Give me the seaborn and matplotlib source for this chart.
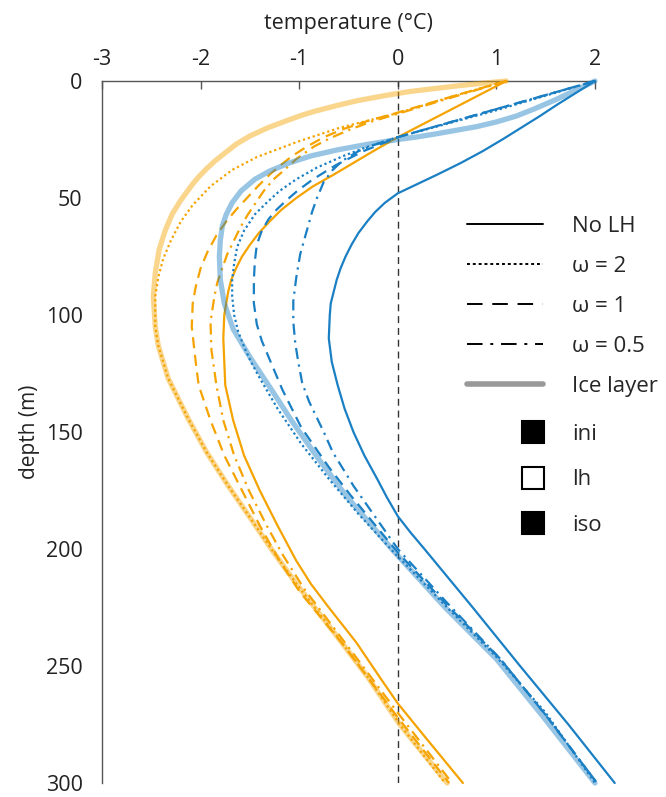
import numpy as np
import seaborn as sns
import matplotlib.pyplot as plt
from matplotlib.lines import Line2D

# ---- data (depth in m, temperature in degC) ----
blue_solid_d = [0, 5, 10, 15, 20, 25, 30, 35, 40, 44, 48, 52, 56, 60, 65, 70, 75, 80, 85, 90, 95, 100, 110,
                120, 130, 140, 150, 160, 170, 178, 186, 193, 200, 225, 250, 275, 300]
blue_solid_t = [2.0, 1.81, 1.62, 1.44, 1.25, 1.06, 0.86, 0.64, 0.40, 0.20, 0.0, -0.13, -0.23, -0.31, -0.40,
                -0.47, -0.53, -0.58, -0.62, -0.65, -0.68, -0.69, -0.70, -0.67, -0.61, -0.54, -0.45, -0.34,
                -0.21, -0.11, 0.0, 0.13, 0.27, 0.76, 1.24, 1.73, 2.2]

blue_dotted_d = [0, 12.5, 24, 28, 32, 37, 42, 47, 52, 57, 64, 71, 78, 85, 92, 100, 107, 113.5, 120, 127,
                 140, 155, 170, 185, 201, 225, 247, 270, 300]
blue_dotted_t = [2.0, 1.0, 0.0, -0.30, -0.55, -0.82, -1.03, -1.20, -1.33, -1.45, -1.56, -1.63, -1.66, -1.68,
                 -1.68, -1.66, -1.62, -1.56, -1.49, -1.40, -1.22, -0.98, -0.70, -0.40, -0.05, 0.5, 1.02,
                 1.5, 2.0]

blue_dashed_d = [0, 12, 24, 30, 36, 42, 47, 51, 55, 59, 64, 70, 77, 85, 95, 104, 111, 118, 125, 132, 148,
                 165, 177, 201, 224, 247, 271, 300]
blue_dashed_t = [2.0, 1.0, 0.0, -0.35, -0.63, -0.86, -1.02, -1.13, -1.23, -1.31, -1.38, -1.43, -1.45, -1.46,
                 -1.46, -1.43, -1.38, -1.31, -1.24, -1.17, -0.98, -0.70, -0.48, -0.01, 0.5, 1.04, 1.5, 2.02]

blue_dashdot_d = [0, 12, 24, 27, 30, 34, 38, 43, 50, 56, 62, 68, 74, 84, 94, 103, 112, 120, 129, 137, 144,
                  151, 158.6, 173, 188, 200, 223, 247, 272, 300]
blue_dashdot_t = [2.0, 1.0, 0.0, -0.22, -0.40, -0.56, -0.66, -0.75, -0.82, -0.87, -0.91, -0.95, -0.99, -1.03,
                  -1.06, -1.06, -1.04, -1.01, -0.97, -0.90, -0.82, -0.74, -0.66, -0.45, -0.2, 0.0, 0.5, 1.04,
                  1.52, 2.02]

blue_ice_d = [0, 4, 8, 12, 15, 17.5, 19.5, 21, 22.5, 24, 25, 27, 29.5, 32, 35, 38.5, 42, 47, 52, 57, 62, 68,
              75, 85, 95, 106, 118, 132, 145, 160, 177, 201, 225, 247, 272, 300]
blue_ice_t = [2.0, 1.8, 1.6, 1.38, 1.2, 1.0, 0.8, 0.6, 0.4, 0.18, 0.0, -0.30, -0.62, -0.88, -1.10, -1.30,
              -1.45, -1.59, -1.68, -1.74, -1.78, -1.80, -1.81, -1.80, -1.76, -1.67, -1.50, -1.28, -1.08,
              -0.83, -0.53, -0.04, 0.48, 1.0, 1.48, 2.0]

orange_solid_d = [0, 12, 24, 30, 35, 40, 45, 50, 55, 60, 65, 70, 75, 80, 85, 90, 100, 110, 120, 130, 145,
                  160, 175, 190, 205, 215, 225, 240, 255, 266, 280, 300]
orange_solid_t = [1.1, 0.55, 0.0, -0.25, -0.45, -0.65, -0.86, -1.03, -1.18, -1.30, -1.41, -1.50, -1.58,
                  -1.64, -1.69, -1.72, -1.76, -1.77, -1.76, -1.75, -1.67, -1.56, -1.40, -1.22, -1.03, -0.88,
                  -0.70, -0.42, -0.18, 0.0, 0.27, 0.66]

orange_dotted_d = [0, 6, 13.5, 20, 26, 32.5, 38, 45, 53, 60, 68, 76, 84, 92, 105, 113, 127, 144, 158.6, 173,
                   186.5, 200.8, 214.8, 238.8, 255, 275, 300]
orange_dotted_t = [1.1, 0.6, 0.02, -0.59, -1.02, -1.43, -1.68, -1.90, -2.08, -2.20, -2.30, -2.38, -2.43,
                   -2.46, -2.46, -2.43, -2.33, -2.13, -1.94, -1.72, -1.50, -1.27, -1.03, -0.59, -0.30, 0.02,
                   0.48]

orange_dashed_d = [0, 6, 13.5, 17, 20.5, 24, 28, 32, 36, 40, 45, 50, 55, 60, 66, 73, 80, 88, 95, 105, 120,
                   130, 145, 160, 175, 190, 205, 218, 240, 272, 300]
orange_dashed_t = [1.1, 0.6, 0.0, -0.30, -0.55, -0.75, -0.92, -1.07, -1.19, -1.30, -1.42, -1.53, -1.64,
                   -1.74, -1.84, -1.93, -2.0, -2.05, -2.08, -2.09, -2.05, -2.02, -1.90, -1.76, -1.58, -1.40,
                   -1.20, -1.0, -0.57, 0.0, 0.52]

orange_dashdot_d = [0, 7, 14, 17.5, 21, 24.5, 28, 33, 38, 42, 47, 52, 57, 62, 68, 74, 80, 86, 92, 103, 115,
                    130, 145, 160, 175, 190, 203, 217, 242, 270, 300]
orange_dashdot_t = [1.1, 0.55, 0.0, -0.28, -0.5, -0.69, -0.85, -1.02, -1.15, -1.26, -1.36, -1.44, -1.52,
                    -1.59, -1.66, -1.73, -1.78, -1.83, -1.86, -1.90, -1.89, -1.84, -1.77, -1.66, -1.51,
                    -1.33, -1.16, -0.95, -0.5, 0.0, 0.55]

orange_ice_d = [0, 1, 2, 3, 4.5, 6, 8.4, 10.5, 13, 15, 17, 20, 23.5, 27, 31, 34, 37.5, 41, 44, 48, 51.5, 57,
                64, 72, 82, 92, 105, 113, 127, 144, 158.6, 173, 186.5, 200.8, 214.8, 238.8, 255, 275, 300]
orange_ice_t = [1.1, 0.85, 0.62, 0.42, 0.12, -0.10, -0.41, -0.62, -0.85, -1.0, -1.13, -1.32, -1.50, -1.64,
                -1.76, -1.85, -1.94, -2.02, -2.08, -2.15, -2.21, -2.29, -2.36, -2.42, -2.46, -2.48, -2.46,
                -2.43, -2.33, -2.13, -1.94, -1.72, -1.50, -1.27, -1.03, -0.59, -0.30, 0.02, 0.50]

legend_lines = ["No LH", "\u03c9 = 2", "\u03c9 = 1", "\u03c9 = 0.5", "Ice layer"]
legend_boxes = ["ini", "lh", "iso"]

ORANGE = "#F5A300"
BLUE = "#1B7FC4"
DOT = (0, (1, 1.3))
DASH = (0, (5, 3))
DASHDOT = (0, (5, 2.5, 1, 2.5))

sns.set_style("white")
plt.rcParams["font.family"] = ["Open Sans", "DejaVu Sans"]

fig = plt.figure(figsize=(6.66, 7.97), dpi=100)
ax = fig.add_axes([0.1532, 1 - 783 / 797, 0.7402, (783 - 81) / 797])


def draw(t, d, color, ls, lw=1.6, alpha=1.0, z=3):
    sns.lineplot(x=t, y=d, orient="y", estimator=None, sort=False, ax=ax,
                 color=color, linestyle=ls, linewidth=lw, alpha=alpha,
                 zorder=z, clip_on=False)


ax.axvline(0, color="#333333", lw=1.0, ls=(0, (5, 3.5)), zorder=1)

draw(orange_solid_t, orange_solid_d, ORANGE, "-")
draw(orange_dotted_t, orange_dotted_d, ORANGE, DOT)
draw(orange_dashed_t, orange_dashed_d, ORANGE, DASH)
draw(orange_dashdot_t, orange_dashdot_d, ORANGE, DASHDOT)
draw(blue_solid_t, blue_solid_d, BLUE, "-")
draw(blue_dotted_t, blue_dotted_d, BLUE, DOT)
draw(blue_dashed_t, blue_dashed_d, BLUE, DASH)
draw(blue_dashdot_t, blue_dashdot_d, BLUE, DASHDOT)
draw(orange_ice_t, orange_ice_d, ORANGE, "-", lw=3.8, alpha=0.45, z=4)
draw(blue_ice_t, blue_ice_d, BLUE, "-", lw=3.8, alpha=0.45, z=4)

ax.set_xlim(-3, 2)
ax.set_ylim(300, 0)
ax.set_xticks([-3, -2, -1, 0, 1, 2])
ax.set_xticklabels(["-3", "-2", "-1", "0", "1", "2"])
ax.set_yticks([0, 50, 100, 150, 200, 250, 300])
ax.xaxis.tick_top()
ax.xaxis.set_label_position("top")
ax.set_xlabel("temperature (\u00b0C)", fontsize=15.5, color="#222222", labelpad=14)
ax.set_ylabel("depth (m)", fontsize=15, color="#222222", labelpad=4)
ax.tick_params(axis="x", direction="in", length=6, width=1, color="#555555",
               labelsize=15.5, pad=8, labelcolor="#222222")
ax.tick_params(axis="y", direction="in", length=6, width=1, color="#555555",
               labelsize=15.5, pad=14, labelcolor="#222222")
for s in ["right", "bottom"]:
    ax.spines[s].set_visible(False)
for s in ["left", "top"]:
    ax.spines[s].set_color("#555555")
    ax.spines[s].set_linewidth(1.0)

# legend for line styles
line_handles = [
    Line2D([], [], color="black", lw=1.4, ls="-"),
    Line2D([], [], color="black", lw=1.4, ls=(0, (1.5, 1.5))),
    Line2D([], [], color="black", lw=1.4, ls=(0, (8, 5))),
    Line2D([], [], color="black", lw=1.4, ls=(0, (8, 4, 1.5, 4))),
    Line2D([], [], color="#999999", lw=4, ls="-"),
]
leg1 = fig.legend(line_handles, legend_lines, loc="upper left",
                  bbox_to_anchor=(467 / 666, 1 - 216 / 797),
                  frameon=False, fontsize=16, handlelength=3.42,
                  handletextpad=1.3, borderpad=0, borderaxespad=0,
                  labelspacing=0.85)

box_handles = [
    Line2D([], [], ls="", marker="s", markersize=16, mfc="black", mec="black", mew=1.5),
    Line2D([], [], ls="", marker="s", markersize=16, mfc="white", mec="black", mew=1.5),
    Line2D([], [], ls="", marker="s", markersize=16, mfc="black", mec="black", mew=1.5),
]
leg2 = fig.legend(box_handles, legend_boxes, loc="upper left",
                  bbox_to_anchor=(519.7 / 666, 1 - 424 / 797),
                  frameon=False, fontsize=16, handlelength=1.2,
                  handletextpad=1.157, borderpad=0, borderaxespad=0,
                  labelspacing=1.1)

fig.savefig("out.png", dpi=100)
